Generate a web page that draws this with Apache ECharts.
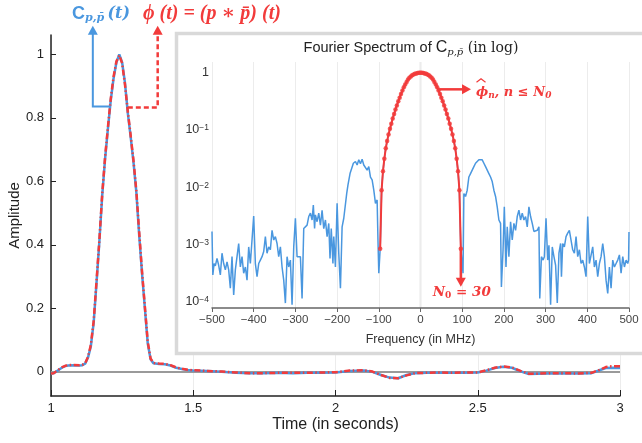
<!DOCTYPE html>
<html>
<head>
<meta charset="utf-8">
<script src="https://cdn.jsdelivr.net/npm/echarts@6/dist/echarts.min.js"></script>
<style>
html, body { margin: 0; padding: 0; background: #fff; }
#chart { width: 642px; height: 443px; }
</style>
</head>
<body>
<div id="chart"></div>
<script>
"use strict"

// main plot: time (s) and amplitude of both curves
const timeS = [1.00,1.01,1.02,1.03,1.04,1.05,1.06,1.08,1.10,1.11,1.12,1.13,1.14,1.15,1.16,1.17,1.18,1.19,1.20,1.21,
    1.22,1.23,1.24,1.25,1.26,1.27,1.28,1.29,1.30,1.31,1.32,1.33,1.34,1.35,1.36,1.38,1.40,1.42,1.44,1.46,
    1.48,1.50,1.55,1.60,1.65,1.70,1.75,1.80,1.85,1.90,1.95,2.00,2.05,2.10,2.13,2.16,2.19,2.22,2.25,2.28,
    2.32,2.36,2.40,2.45,2.50,2.53,2.56,2.59,2.62,2.65,2.68,2.71,2.75,2.80,2.85,2.90,2.93,2.95,2.97,3.00];
const ampBlue = [-0.006,-0.004,0.002,0.008,0.014,0.018,0.020,0.021,0.020,0.021,0.026,0.045,0.08,0.155,0.28,0.41,0.555,0.67,0.765,0.855,
    0.925,0.975,1.0,0.975,0.91,0.815,0.74,0.66,0.565,0.43,0.31,0.2,0.09,0.04,0.027,0.025,0.024,0.02,0.013,0.009,
    0.006,0.004,0.003,0.0,-0.003,-0.004,-0.004,-0.003,-0.004,-0.003,-0.003,-0.002,0.003,0.004,0.0,-0.01,-0.018,-0.02,-0.01,-0.004,
    -0.003,-0.003,-0.003,-0.003,-0.002,0.004,0.012,0.016,0.013,0.002,-0.007,-0.006,-0.005,-0.005,-0.005,-0.004,0.006,0.012,0.013,0.012];
const ampRed = [-0.005,-0.004,0.003,0.009,0.015,0.019,0.021,0.022,0.021,0.022,0.027,0.047,0.085,0.16,0.285,0.415,0.56,0.675,0.77,0.86,
    0.93,0.978,0.997,0.972,0.905,0.82,0.745,0.665,0.57,0.44,0.315,0.205,0.095,0.042,0.028,0.026,0.025,0.021,0.014,0.01,
    0.007,0.005,0.003,0.001,-0.002,-0.004,-0.004,-0.003,-0.003,-0.003,-0.002,-0.001,0.004,0.005,0.001,-0.01,-0.019,-0.02,-0.011,-0.004,
    -0.003,-0.002,-0.003,-0.002,-0.002,0.005,0.013,0.017,0.014,0.003,-0.006,-0.006,-0.004,-0.004,-0.005,-0.003,0.007,0.015,0.018,0.018];
const ampTicks = [0, 0.2, 0.4, 0.6, 0.8, 1];

// inset: [frequency MHz, log10 magnitude]
const specLeft = [[-500,-2.77],[-498,-3.53],[-495,-3.33],[-492,-3.37],[-488,-3.24],[-484,-3.36],[-480,-3.53],[-476,-3.15],
    [-472,-3.33],[-468,-3.44],[-464,-3.30],[-460,-3.44],[-456,-3.76],[-452,-3.21],[-448,-3.88],[-444,-3.44],[-440,-3.21],
    [-436,-2.98],[-432,-3.39],[-428,-3.21],[-424,-3.50],[-420,-3.39],[-416,-3.62],[-412,-3.04],[-408,-3.33],[-404,-3.33],
    [-400,-2.50],[-396,-3.33],[-392,-3.56],[-388,-3.33],[-384,-3.27],[-380,-3.21],[-376,-3.12],[-372,-2.86],[-368,-3.15],
    [-364,-3.04],[-360,-3.09],[-356,-2.75],[-352,-2.92],[-348,-2.86],[-344,-2.98],[-340,-3.21],[-336,-3.04],[-332,-3.39],
    [-328,-3.62],[-324,-4.02],[-320,-3.21],[-316,-3.39],[-312,-3.27],[-308,-4.05],[-304,-3.04],[-300,-2.54],[-296,-3.21],
    [-292,-3.18],[-288,-3.21],[-284,-3.94],[-280,-2.72],[-276,-2.69],[-272,-2.66],[-268,-2.51],[-264,-2.45],[-260,-2.57],
    [-257,-2.31],[-254,-2.72],[-252,-2.48],[-248,-2.60],[-244,-2.45],[-240,-2.66],[-236,-2.40],[-232,-2.72],[-228,-2.57],
    [-224,-2.86],[-220,-2.63],[-217,-3.24],[-214,-2.72],[-210,-3.33],[-208,-2.86],[-204,-3.39],[-200,-2.28],[-196,-3.15],
    [-192,-3.76],[-188,-2.69],[-184,-2.54],[-181,-2.57],[-177,-2.11],[-174,-1.96],[-169,-1.76],[-166,-1.76],[-161,-1.58],
    [-156,-1.55],[-152,-1.61],[-148,-1.52],[-144,-1.59],[-140,-1.51],[-136,-1.61],[-132,-1.58],[-128,-1.70],[-124,-1.64],
    [-120,-1.82],[-116,-1.87],[-112,-2.05],[-108,-2.28],[-104,-2.22],[-102,-2.92],[-100,-3.50]];
const lobe = [[-96.7,-3.07],[-93.3,-2.05],[-90,-1.72],[-86.7,-1.50],[-83.3,-1.32],[-80,-1.19],[-76.7,-1.08],[-73.3,-0.98],
    [-70,-0.89],[-66.7,-0.80],[-63.3,-0.72],[-60,-0.64],[-56.7,-0.57],[-53.3,-0.50],[-50,-0.435],[-46.7,-0.37],[-43.3,-0.31],
    [-40,-0.255],[-36.7,-0.205],[-33.3,-0.16],[-30,-0.12],[-26.7,-0.09],[-23.3,-0.065],[-20,-0.045],[-16.7,-0.03],[-13.3,-0.02],
    [-10,-0.012],[-6.7,-0.006],[-3.3,-0.002],[0,0],[3.3,-0.002],[6.7,-0.006],[10,-0.012],[13.3,-0.02],[16.7,-0.03],[20,-0.045],
    [23.3,-0.065],[26.7,-0.09],[30,-0.12],[33.3,-0.16],[36.7,-0.205],[40,-0.255],[43.3,-0.31],[46.7,-0.37],[50,-0.435],
    [53.3,-0.50],[56.7,-0.57],[60,-0.64],[63.3,-0.72],[66.7,-0.80],[70,-0.89],[73.3,-0.98],[76.7,-1.08],[80,-1.19],
    [83.3,-1.32],[86.7,-1.50],[90,-1.72],[93.3,-2.05],[96.7,-3.07]];
const specRight = [[102,-3.50],[104,-2.11],[108,-2.16],[112,-2.05],[116,-1.82],[120,-1.76],[124,-1.70],[128,-1.64],
    [132,-1.58],[136,-1.55],[140,-1.52],[144,-1.55],[148,-1.52],[152,-1.58],[156,-1.64],[160,-1.61],[164,-1.76],[168,-1.82],
    [172,-1.90],[176,-2.05],[180,-2.16],[184,-2.34],[188,-2.57],[192,-2.63],[194,-3.74],[198,-3.09],[201,-2.34],[205,-3.39],
    [208,-2.69],[212,-3.21],[216,-2.60],[220,-2.92],[224,-2.63],[228,-2.75],[232,-2.51],[236,-2.40],[240,-2.57],[244,-2.45],
    [248,-2.57],[252,-2.51],[256,-2.69],[260,-2.34],[264,-2.51],[268,-2.63],[272,-2.77],[276,-2.80],[280,-2.75],[284,-2.69],
    [286,-3.94],[290,-3.21],[294,-3.27],[297,-3.21],[301,-2.54],[305,-3.27],[308,-3.01],[312,-4.05],[316,-3.04],[320,-3.21],
    [324,-3.36],[328,-4.02],[332,-3.15],[336,-2.98],[338,-3.56],[341,-2.98],[345,-3.04],[349,-2.86],[353,-2.80],[357,-2.75],
    [361,-2.92],[365,-3.09],[369,-3.15],[373,-2.86],[377,-3.21],[381,-3.09],[385,-3.33],[389,-3.27],[393,-3.39],[397,-3.56],
    [401,-2.51],[405,-3.33],[409,-3.30],[413,-3.04],[417,-3.39],[421,-3.27],[425,-3.56],[429,-3.33],[433,-3.21],[437,-2.98],
    [441,-3.21],[445,-3.62],[449,-3.85],[453,-3.39],[457,-3.76],[461,-3.27],[465,-3.39],[469,-3.33],[473,-3.27],[477,-3.18],
    [481,-3.50],[485,-3.21],[489,-3.39],[493,-3.27],[497,-3.33],[499,-3.27],[500,-2.78]];
const decadeTicks = [-4, -3, -2, -1, 0];

const BLUE = "#4a97df", RED = "#f23b3b";
const SANS = "Liberation Sans, Arial, sans-serif";
const SERIF = "DejaVu Serif, Liberation Serif, serif";
const LSERIF = "Liberation Serif, DejaVu Serif, serif";

const myChart = echarts.init(document.getElementById("chart"), null, { renderer: "canvas" });

const option = {
    animation: false,
    textStyle: { fontFamily: SANS },
    grid: [
        { left: 51, right: 22, top: 35, bottom: 47, containLabel: false, outerBoundsMode: "none" },
        { left: 212, right: 13, top: 62, bottom: 135, containLabel: false, outerBoundsMode: "none" }
    ],
    xAxis: [{
        type: "value", gridIndex: 0, min: 1, max: 3, interval: 0.5,
        axisLine: { onZero: false, lineStyle: { color: "#222", width: 1.5 } },
        axisTick: { inside: true, length: 6, lineStyle: { color: "#222" } },
        axisLabel: { fontSize: 13, color: "#222", margin: 6 },
        splitLine: { show: true, lineStyle: { color: "#ececec" } },
        name: "Time (in seconds)", nameLocation: "middle", nameGap: 21, nameMoveOverlap: false,
        nameTextStyle: { fontSize: 16, color: "#222" }
    }, {
        type: "value", gridIndex: 1, min: -500, max: 500, interval: 100, z: 5,
        axisLine: { onZero: false, lineStyle: { color: "#666", width: 1.5 } },
        axisTick: { length: 4, lineStyle: { color: "#666" } },
        axisLabel: { fontSize: 11.5, color: "#444", margin: 6, formatter: v => v < 0 ? "\u2212" + (-v) : String(v) },
        splitLine: { show: true, lineStyle: { color: "#ececec" } },
        name: "Frequency (in MHz)", nameLocation: "middle", nameGap: 25, nameMoveOverlap: false,
        nameTextStyle: { fontSize: 12.5, color: "#333" }
    }],
    yAxis: [{
        type: "value", gridIndex: 0, min: -0.076, max: 1.061,
        axisLine: { show: true, onZero: false, lineStyle: { color: "#222", width: 1.5 } },
        axisTick: { show: true, inside: true, length: 5, customValues: ampTicks, lineStyle: { color: "#222" } },
        axisLabel: { fontSize: 13, color: "#222", margin: 7, customValues: ampTicks },
        splitLine: { show: false },
        name: "Amplitude", nameLocation: "middle", nameGap: 29, nameMoveOverlap: false,
        nameTextStyle: { fontSize: 15, color: "#222" }
    }, {
        type: "value", gridIndex: 1, min: -4.106, max: 0.187, z: 5,
        axisLine: { show: false, onZero: false }, axisTick: { show: false }, splitLine: { show: false },
        axisLabel: {
            margin: 3, customValues: decadeTicks,
            formatter: v => v === 0 ? "{b|1}" : "{b|10}{sup|\u2212" + (-v) + "}",
            rich: {
                b: { fontSize: 12.5, color: "#333", fontFamily: SANS, lineHeight: 13, verticalAlign: "bottom" },
                sup: { fontSize: 8.5, color: "#333", fontFamily: SANS, lineHeight: 9, padding: [0, 0, 6, 0], verticalAlign: "top" }
            }
        }
    }],
    series: [{
        type: "line", xAxisIndex: 0, yAxisIndex: 0, z: 2,
        data: timeS.map((t, i) => [t, ampBlue[i]]),
        showSymbol: false, lineStyle: { color: BLUE, width: 2.5 },
        markLine: {
            silent: true, symbol: "none", z: 1, label: { show: false },
            lineStyle: { color: "#9a9a9a", width: 2, type: "solid" },
            data: [{ yAxis: 0 }]
        }
    }, {
        type: "line", xAxisIndex: 0, yAxisIndex: 0, z: 3,
        data: timeS.map((t, i) => [t, ampRed[i]]),
        showSymbol: false, lineStyle: { color: RED, width: 2.5, type: [6, 2.5, 1.5, 2.5] }
    }, {
        type: "line", xAxisIndex: 1, yAxisIndex: 1, z: 5,
        data: specLeft.concat(lobe, specRight),
        showSymbol: false, lineStyle: { color: BLUE, width: 1.5 },
        markLine: {
            silent: true, symbol: "none", z: 4, label: { show: false },
            lineStyle: { color: "#8a8a8a", width: 1.2, type: "solid" },
            data: [{ xAxis: 0 }]
        }
    }, {
        type: "line", xAxisIndex: 1, yAxisIndex: 1, z: 6,
        data: lobe, symbol: "circle", symbolSize: 4.5, showAllSymbol: true,
        itemStyle: { color: RED, opacity: 0.85 },
        lineStyle: { color: RED, width: 2 }
    }]
};
myChart.setOption(option);

const P0 = v => myChart.convertToPixel({ gridIndex: 0 }, v);
const P1 = v => myChart.convertToPixel({ gridIndex: 1 }, v);

function headUp(x, y, color) { return { type: "polygon", z: 20, shape: { points: [[x, y], [x - 5, y + 9], [x + 5, y + 9]] }, style: { fill: color } }; }
function headDown(x, y, color) { return { type: "polygon", z: 20, shape: { points: [[x, y], [x - 5, y - 9], [x + 5, y - 9]] }, style: { fill: color } }; }
function headRight(x, y, color) { return { type: "polygon", z: 20, shape: { points: [[x, y], [x - 9, y - 5], [x - 9, y + 5]] }, style: { fill: color } }; }

// arrows in the main plot
const bTouch = P0([1.21, 0.836]), bElbow = P0([1.147, 0.836]), bTop = P0([1.147, 1.09]);
const rTouch = P0([1.27, 0.833]), rElbow = P0([1.375, 0.833]), rTop = P0([1.375, 1.09]);
// arrows in the inset
const hStart = P1([42, -0.29]);
const vStart = P1([96.7, -3.07]);
const phiX = hStart[0] + 38;

const graphics = [
    { type: "rect", z: 1, shape: { x: 176.5, y: 33.5, width: 480, height: 320 }, style: { fill: "#fff", stroke: "#d9d9d9", lineWidth: 3.5 } },
    {
        type: "text", z: 20, x: 411, y: 48,
        style: {
            text: "{a|Fourier Spectrum of }{c|C}{s|p,p\u0304}{d| (in log)}", align: "center", verticalAlign: "middle",
            rich: {
                a: { fontSize: 14.5, fontFamily: SANS, fill: "#222", lineHeight: 18 },
                c: { fontSize: 16, fontFamily: SANS, fill: "#222", lineHeight: 18 },
                s: { fontSize: 10, fontFamily: SERIF, fontStyle: "italic", fill: "#222", lineHeight: 10, padding: [9, 0, 0, 0] },
                d: { fontSize: 14, fontFamily: SERIF, fill: "#222", lineHeight: 18 }
            }
        }
    },
    { type: "polyline", z: 20, shape: { points: [bTouch, bElbow, [bElbow[0], bTop[1] + 8]] }, style: { stroke: BLUE, lineWidth: 2, fill: null } },
    headUp(bElbow[0], bTop[1], BLUE),
    { type: "polyline", z: 20, shape: { points: [rTouch, rElbow, [rElbow[0], rTop[1] + 8]] }, style: { stroke: RED, lineWidth: 2.5, lineDash: [5, 3], fill: null } },
    headUp(rElbow[0], rTop[1], RED),
    {
        type: "text", z: 20, x: 72, y: 14,
        style: {
            text: "{c|C}{s|p,p\u0304} {t|(t)}", align: "left", verticalAlign: "middle",
            rich: {
                c: { fontSize: 18, fontWeight: "bold", fontFamily: SANS, fill: BLUE, lineHeight: 20 },
                s: { fontSize: 11, fontWeight: "bold", fontStyle: "italic", fontFamily: SERIF, fill: BLUE, lineHeight: 12, padding: [9, 0, 0, 0] },
                t: { fontSize: 16, fontWeight: "bold", fontStyle: "italic", fontFamily: SERIF, fill: BLUE, lineHeight: 20 }
            }
        }
    },
    {
        type: "text", z: 20, x: 143, y: 14,
        style: {
            text: "\u03d5 (t) = (p \u2217 p\u0304) (t)", align: "left", verticalAlign: "middle",
            fontSize: 20, fontWeight: "bold", fontStyle: "italic", fontFamily: LSERIF, fill: RED
        }
    },
    { type: "line", z: 20, shape: { x1: hStart[0], y1: hStart[1], x2: hStart[0] + 25, y2: hStart[1] }, style: { stroke: RED, lineWidth: 2.5 } },
    headRight(hStart[0] + 33, hStart[1], RED),
    {
        type: "text", z: 20, x: phiX, y: hStart[1] + 3,
        style: {
            text: "{m|\u03d5}{s|n}{m|, n \u2264 N}{s|0}", align: "left", verticalAlign: "middle",
            rich: {
                m: { fontSize: 13, fontWeight: "bold", fontStyle: "italic", fontFamily: SERIF, fill: RED, lineHeight: 16 },
                s: { fontSize: 9, fontWeight: "bold", fontStyle: "italic", fontFamily: SERIF, fill: RED, lineHeight: 10, padding: [7, 0, 0, 0] }
            }
        }
    },
    // wide hat over phi
    { type: "polyline", z: 20, shape: { points: [[phiX + 0.5, hStart[1] - 7], [phiX + 5, hStart[1] - 10.5], [phiX + 9.5, hStart[1] - 7]] }, style: { stroke: RED, lineWidth: 1.2, fill: null } },
    { type: "line", z: 20, shape: { x1: vStart[0], y1: vStart[1], x2: vStart[0], y2: vStart[1] + 30 }, style: { stroke: RED, lineWidth: 2.5 } },
    headDown(vStart[0], vStart[1] + 38, RED),
    {
        type: "text", z: 20, x: vStart[0] + 1, y: vStart[1] + 44,
        style: {
            text: "{m|N}{s|0}{m| = 30}", align: "center", verticalAlign: "middle",
            rich: {
                m: { fontSize: 13.5, fontWeight: "bold", fontStyle: "italic", fontFamily: SERIF, fill: RED, lineHeight: 16 },
                s: { fontSize: 9, fontWeight: "bold", fontFamily: SERIF, fill: RED, lineHeight: 10, padding: [7, 0, 0, 0] }
            }
        }
    }
];
myChart.setOption({ graphic: graphics });
</script>
</body>
</html>
